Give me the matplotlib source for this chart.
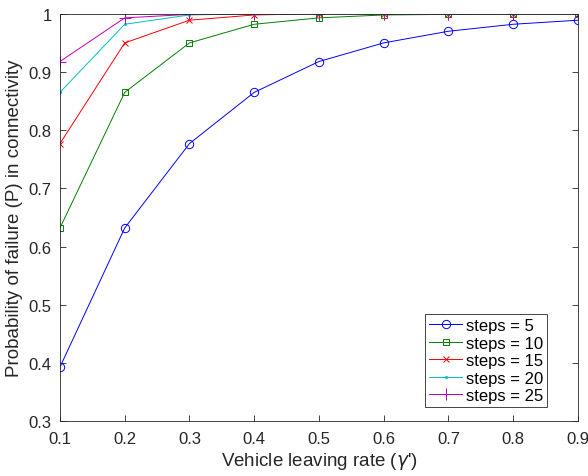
import matplotlib
matplotlib.use("Agg")
import matplotlib.pyplot as plt

# leaving rate on x axis
gamma = [0.1, 0.2, 0.3, 0.4, 0.5, 0.6, 0.7, 0.8, 0.9]

# failure probability
p_steps5 = [0.393, 0.632, 0.777, 0.865, 0.918, 0.950, 0.970, 0.982, 0.989]
p_steps10 = [0.632, 0.865, 0.950, 0.982, 0.993, 0.998, 0.999, 1.000, 1.000]
p_steps15 = [0.777, 0.950, 0.989, 0.998, 1.000, 1.000, 1.000, 1.000, 1.000]
p_steps20 = [0.865, 0.982, 0.998, 1.000, 1.000, 1.000, 1.000, 1.000, 1.000]
p_steps25 = [0.918, 0.993, 0.999, 1.000, 1.000, 1.000, 1.000, 1.000, 1.000]

labels = ["steps = 5", "steps = 10", "steps = 15", "steps = 20", "steps = 25"]
series = [p_steps5, p_steps10, p_steps15, p_steps20, p_steps25]
colors = ["#0000ff", "#008000", "#ff0000", "#00bfbf", "#bf00bf"]
markers = ["o", "s", "x", ".", "+"]
msizes = [6, 5, 5, 3, 8]

plt.rcParams["font.family"] = ["Liberation Sans", "DejaVu Sans"]

fig = plt.figure(figsize=(5.88, 4.77), dpi=100)
ax = fig.add_axes([0.102, 0.115, 0.881, 0.854])

for y, lab, c, m, ms in zip(series, labels, colors, markers, msizes):
    ax.plot(gamma, y, color=c, marker=m, markersize=ms, markerfacecolor="none",
            markeredgewidth=0.7, linewidth=0.7, label=lab)

ax.set_xlim(0.1, 0.9)
ax.set_ylim(0.3, 1.0)
ax.set_xticks([0.1, 0.2, 0.3, 0.4, 0.5, 0.6, 0.7, 0.8, 0.9])
ax.set_yticks([0.3, 0.4, 0.5, 0.6, 0.7, 0.8, 0.9, 1.0])
ax.set_xticklabels(["0.1", "0.2", "0.3", "0.4", "0.5", "0.6", "0.7", "0.8", "0.9"])
ax.set_yticklabels(["0.3", "0.4", "0.5", "0.6", "0.7", "0.8", "0.9", "1"])
ax.tick_params(direction="in", top=True, right=True, labelsize=12,
               colors="#262626", length=4, width=0.6)
ax.tick_params(axis="x", pad=7)
ax.tick_params(axis="y", pad=6)
for s in ax.spines.values():
    s.set_color("#262626")
    s.set_linewidth(0.6)

ax.set_xlabel("Vehicle leaving rate ($\\gamma$')", fontsize=13.5, color="#262626", labelpad=3)
ax.set_ylabel("Probability of failure (P) in connectivity", fontsize=13.5, color="#262626")

leg = ax.legend(loc="lower right", bbox_to_anchor=(0.94, 0.034), fontsize=12,
                fancybox=False, framealpha=1, edgecolor="#262626", borderpad=0.25,
                labelspacing=0.15, handlelength=2.0, handletextpad=0.2, borderaxespad=0)
leg.get_frame().set_linewidth(0.6)

fig.savefig("out.png", dpi=100)
